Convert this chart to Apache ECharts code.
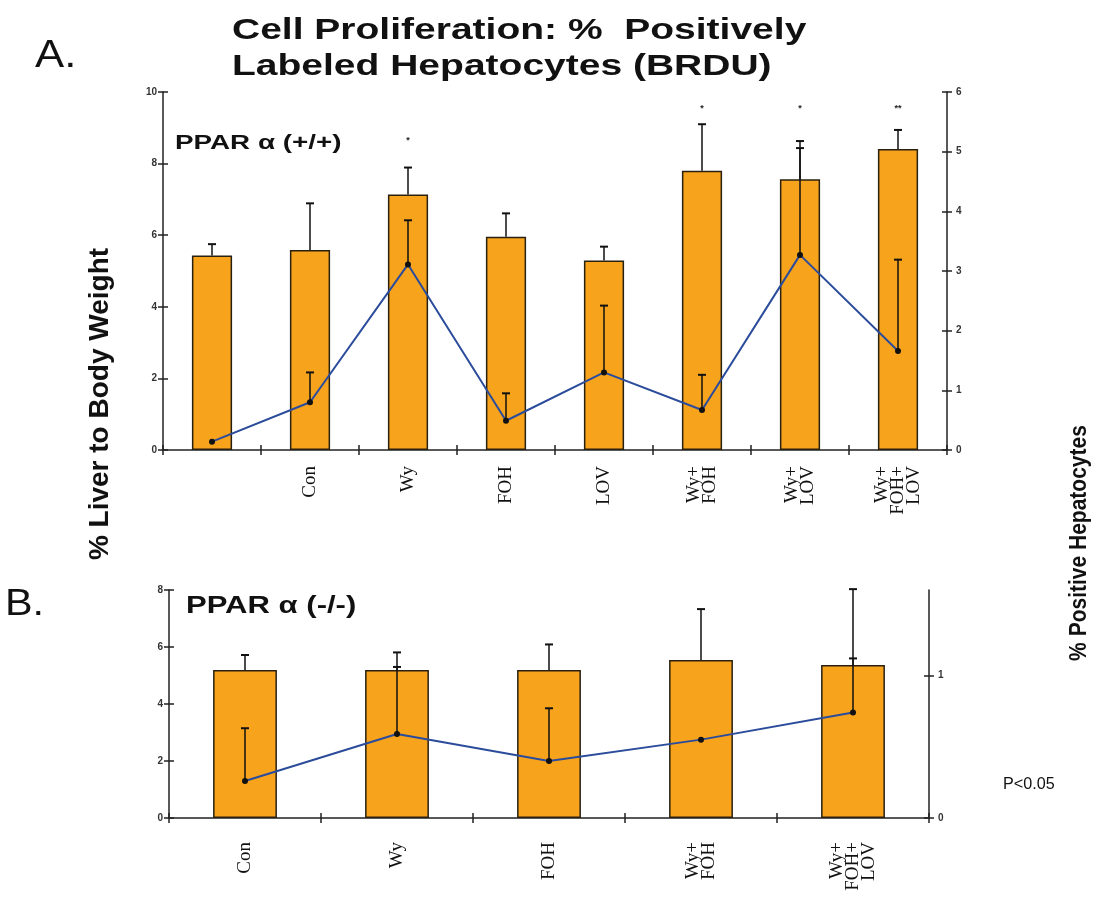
<!DOCTYPE html>
<html><head><meta charset="utf-8">
<script src="https://cdn.jsdelivr.net/npm/echarts@6/dist/echarts.min.js"></script>
<style>html,body{margin:0;padding:0;background:#fff}#c{width:1103px;height:909px}</style>
</head><body><div id="c"></div>
<script>
// ---------- Panel A data ----------
const categoriesA = ['', 'Con', 'Wy', 'FOH', 'LOV', 'Wy+\nFOH', 'Wy+\nLOV', 'Wy+\nFOH+\nLOV'];
const liverA      = [5.43, 5.59, 7.14, 5.96, 5.29, 7.80, 7.56, 8.41];
const liverUpA    = [5.75, 6.89, 7.89, 6.61, 5.68, 9.10, 8.63, 8.94];
const brduA       = [0.14, 0.80, 3.11, 0.49, 1.30, 0.67, 3.27, 1.66];
const brduUpA     = [null, 1.30, 3.85, 0.95, 2.42, 1.26, 5.06, 3.19];
const sigTextA    = ['', '', '*', '', '', '*', '*', '**'];
const sigPosA     = [null, null, 8.65, null, null, 9.55, 9.55, 9.55];
const leftTicksA  = {min: 0, max: 10, interval: 2};
const rightTicksA = {min: 0, max: 6, interval: 1};
// ---------- Panel B data ----------
const categoriesB = ['Con', 'Wy', 'FOH', 'Wy+\nFOH', 'Wy+\nFOH+\nLOV'];
const liverB      = [5.19, 5.19, 5.19, 5.54, 5.37];
const liverUpB    = [5.72, 5.81, 6.09, 7.33, 8.03];
const brduB       = [0.26, 0.59, 0.40, 0.55, 0.74];
const brduUpB     = [0.63, 1.06, 0.77, null, 1.12];
const leftTicksB  = {min: 0, max: 8, interval: 2};
const rightTicksB = {min: 0, max: 1.6, values: [0, 1]};

const SANS = '"Liberation Sans", Arial, sans-serif';
const SERIF = '"Liberation Serif", "Times New Roman", serif';
const AXC = '#222';
const BAR = '#F7A31C';
const LINE = '#2B4C9B';

function errData(mean, up) {
  const out = [];
  mean.forEach((m, i) => { if (up[i] != null) out.push([i, m, up[i]]); });
  return out;
}
function errRender(cap) {
  return function (params, api) {
    const p0 = api.coord([api.value(0), api.value(1)]);
    const p1 = api.coord([api.value(0), api.value(2)]);
    return {type: 'group', children: [
      {type: 'line', shape: {x1: p0[0], y1: p0[1], x2: p1[0], y2: p1[1]}, style: {stroke: '#111', lineWidth: 1.5}},
      {type: 'line', shape: {x1: p1[0] - cap, y1: p1[1], x2: p1[0] + cap, y2: p1[1]}, style: {stroke: '#111', lineWidth: 2}}
    ]};
  };
}
function sigData() {
  const out = [];
  sigTextA.forEach((t, i) => { if (t) out.push([i, sigPosA[i], t]); });
  return out;
}

function yAx(grid, pos, t, inner) {
  const a = {
    type: 'value', gridIndex: grid, position: pos, min: t.min, max: t.max,
    splitLine: {show: false},
    axisLine: {show: !inner, lineStyle: {color: AXC, width: 1.5}},
    axisTick: {show: true, inside: !!inner, length: 5, lineStyle: {color: AXC, width: 1.5}},
    axisLabel: {show: !inner, color: '#333', fontFamily: SANS, fontWeight: 'bold', fontSize: 10, margin: pos === 'left' ? 6 : 9}
  };
  if (t.interval != null) a.interval = t.interval;
  if (t.values) { a.axisLabel.customValues = t.values; a.axisTick.customValues = t.values; }
  return a;
}
function xAx(grid, cats, inner, margin) {
  return {
    type: 'category', gridIndex: grid, data: cats, position: 'bottom',
    axisLine: {show: !inner, lineStyle: {color: AXC, width: 1.5}},
    axisTick: {show: true, inside: !!inner, length: 5, lineStyle: {color: AXC, width: 1.5}},
    axisLabel: {show: !inner, rotate: 90, interval: 0, color: '#111', fontFamily: SERIF, fontSize: 19, lineHeight: 16, margin: margin},
    splitLine: {show: false}
  };
}
function txt(x, y, text, font, extra) {
  return Object.assign({type: 'text', x: x, y: y, z: 100,
    style: {text: text, font: font, fill: '#111', textAlign: 'left', textVerticalAlign: 'middle'}}, extra || {});
}

const chart = echarts.init(document.getElementById('c'));
chart.setOption({
  animation: false,
  backgroundColor: '#fff',
  grid: [
    {left: 163, top: 92, width: 784, height: 358},
    {left: 169, top: 590, width: 760, height: 228}
  ],
  xAxis: [
    xAx(0, categoriesA, false, 16), xAx(0, categoriesA, true, 16),
    xAx(1, categoriesB, false, 24), xAx(1, categoriesB, true, 24)
  ],
  yAxis: [
    yAx(0, 'left', leftTicksA), yAx(0, 'right', rightTicksA),
    yAx(0, 'left', leftTicksA, true), yAx(0, 'right', rightTicksA, true),
    yAx(1, 'left', leftTicksB), yAx(1, 'right', rightTicksB),
    yAx(1, 'left', leftTicksB, true), yAx(1, 'right', rightTicksB, true)
  ],
  series: [
    {type: 'bar', xAxisIndex: 0, yAxisIndex: 0, data: liverA, barWidth: '41%', z: 2,
     itemStyle: {color: BAR, borderColor: '#2a2010', borderWidth: 1.5}},
    {type: 'custom', xAxisIndex: 0, yAxisIndex: 0, data: errData(liverA, liverUpA), z: 3,
     renderItem: errRender(4), encode: {x: 0, y: [1, 2]}},
    {type: 'line', xAxisIndex: 0, yAxisIndex: 1, data: brduA, z: 4,
     symbol: 'circle', symbolSize: 6, itemStyle: {color: '#111'}, lineStyle: {color: LINE, width: 2}},
    {type: 'custom', xAxisIndex: 0, yAxisIndex: 1, data: errData(brduA, brduUpA), z: 5,
     renderItem: errRender(4), encode: {x: 0, y: [1, 2]}},
    {type: 'custom', xAxisIndex: 0, yAxisIndex: 0, data: sigData(), z: 6,
     renderItem: function (params, api) {
       const p = api.coord([api.value(0), api.value(1)]);
       return {type: 'text', x: p[0], y: p[1], style: {text: sigTextA[api.value(0)], font: 'bold 9px ' + SANS, fill: '#222', textAlign: 'center', textVerticalAlign: 'middle'}};
     }, encode: {x: 0, y: 1}},

    {type: 'bar', xAxisIndex: 2, yAxisIndex: 4, data: liverB, barWidth: '42%', z: 2,
     itemStyle: {color: BAR, borderColor: '#2a2010', borderWidth: 1.5}},
    {type: 'custom', xAxisIndex: 2, yAxisIndex: 4, data: errData(liverB, liverUpB), z: 3,
     renderItem: errRender(4), encode: {x: 0, y: [1, 2]}},
    {type: 'line', xAxisIndex: 2, yAxisIndex: 5, data: brduB, z: 4,
     symbol: 'circle', symbolSize: 6, itemStyle: {color: '#111'}, lineStyle: {color: LINE, width: 2}},
    {type: 'custom', xAxisIndex: 2, yAxisIndex: 5, data: errData(brduB, brduUpB), z: 5,
     renderItem: errRender(4), encode: {x: 0, y: [1, 2]}}
  ],
  graphic: [
    txt(232, 31, 'Cell Proliferation: %  Positively', 'bold 30px ' + SANS, {scaleX: 1.3}),
    txt(232, 67, 'Labeled Hepatocytes (BRDU)', 'bold 30px ' + SANS, {scaleX: 1.3}),
    txt(35, 57, 'A.', '38px ' + SANS, {scaleX: 1.15}),
    txt(5, 605, 'B.', '36px ' + SANS, {scaleX: 1.15}),
    txt(175, 143, 'PPAR α (+/+)', 'bold 20px ' + SANS, {scaleX: 1.39}),
    txt(186, 607, 'PPAR α (-/-)', 'bold 23px ' + SANS, {scaleX: 1.35}),
    txt(1003, 784, 'P<0.05', '17px ' + SANS, {scaleX: 0.95}),
    {type: 'text', x: 100, y: 404, rotation: Math.PI / 2, z: 100,
     style: {text: '% Liver to Body Weight', font: 'bold 28px ' + SANS, fill: '#111', textAlign: 'center', textVerticalAlign: 'middle'}},
    {type: 'text', x: 1080, y: 543, rotation: Math.PI / 2, scaleY: 1.12, z: 100,
     style: {text: '% Positive Hepatocytes', font: 'bold 21px ' + SANS, fill: '#111', textAlign: 'center', textVerticalAlign: 'middle'}}
  ]
});
</script>
</body></html>
